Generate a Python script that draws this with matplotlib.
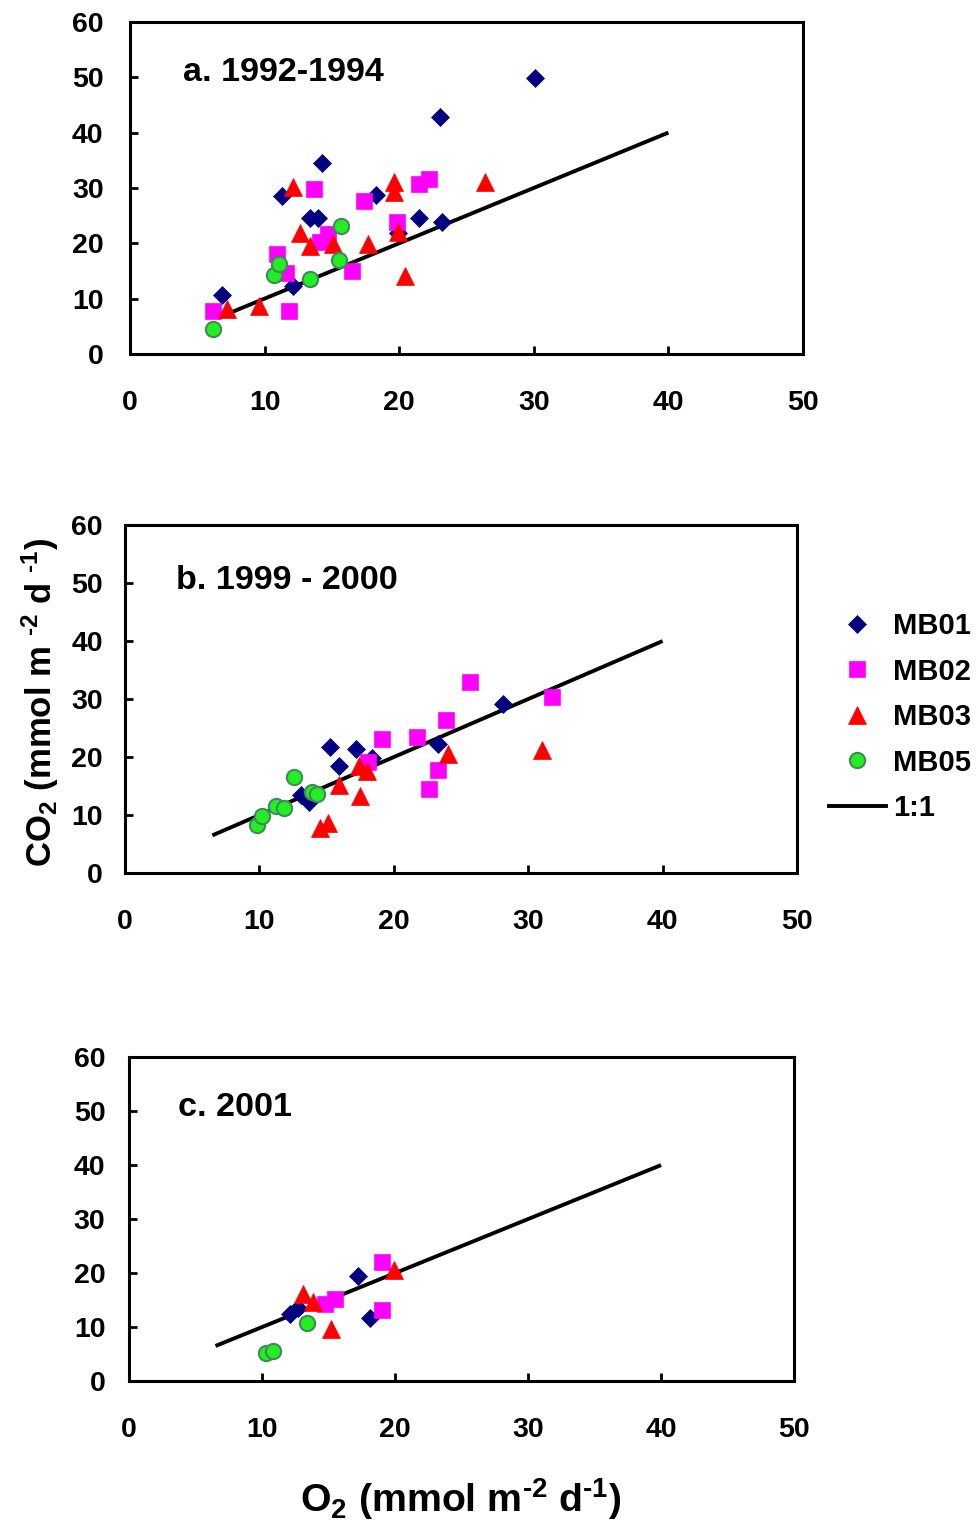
import matplotlib
matplotlib.use("Agg")
import matplotlib.pyplot as plt
from matplotlib.lines import Line2D

plt.rcParams['font.family'] = ['Liberation Sans', 'DejaVu Sans']
plt.rcParams['font.weight'] = 'bold'
plt.rcParams['mathtext.fontset'] = 'custom'
plt.rcParams['mathtext.rm'] = 'Liberation Sans:bold'
plt.rcParams['mathtext.bf'] = 'Liberation Sans:bold'
plt.rcParams['mathtext.default'] = 'rm'

# ---- data (O2, CO2 in mmol m-2 d-1) ----
titles = ["a. 1992-1994", "b. 1999 - 2000", "c. 2001"]
stations = ["MB01", "MB02", "MB03", "MB05"]

# panel a, 1992-1994
a_mb01_o2 = [6.8, 11.3, 12.1, 13.4, 14.0, 14.3, 18.3, 19.9, 21.5, 23.0, 23.2, 30.1]
a_mb01_co2 = [10.7, 28.6, 12.3, 24.5, 24.5, 34.5, 28.7, 21.8, 24.5, 42.8, 23.8, 49.8]
a_mb02_o2 = [6.2, 10.9, 11.6, 11.8, 13.7, 14.1, 14.7, 16.5, 17.4, 19.8, 21.5, 22.2]
a_mb02_co2 = [7.7, 18.0, 14.6, 7.7, 29.8, 20.3, 21.7, 14.9, 27.6, 23.9, 30.7, 31.7]
a_mb03_o2 = [7.2, 9.6, 12.1, 12.6, 13.4, 15.1, 17.7, 19.6, 19.6, 19.9, 20.4, 26.4]
a_mb03_co2 = [8.1, 8.7, 30.2, 21.8, 19.5, 19.8, 19.8, 29.3, 31.1, 22.1, 14.0, 31.1]
a_mb05_o2 = [6.2, 10.7, 11.1, 13.4, 15.5, 15.7]
a_mb05_co2 = [4.5, 14.2, 16.3, 13.6, 17.0, 23.2]

# panel b, 1999-2000
b_mb01_o2 = [15.25, 17.2, 15.9, 18.4, 13.1, 13.7, 23.3, 28.1]
b_mb01_co2 = [21.7, 21.4, 18.4, 19.8, 13.4, 12.2, 22.2, 29.2]
b_mb02_o2 = [19.1, 18.1, 21.7, 23.9, 23.3, 22.6, 25.7, 31.8]
b_mb02_co2 = [23.1, 19.2, 23.4, 26.4, 17.8, 14.5, 32.9, 30.3]
b_mb03_o2 = [14.5, 15.1, 15.9, 17.5, 17.4, 18.0, 24.0, 31.0]
b_mb03_co2 = [7.7, 8.7, 15.2, 13.3, 18.4, 17.6, 20.5, 21.2]
b_mb05_o2 = [9.8, 10.2, 11.2, 11.8, 12.6, 13.9, 14.3]
b_mb05_co2 = [8.3, 9.8, 11.6, 11.3, 16.5, 13.9, 13.6]

# panel c, 2001
c_mb01_o2 = [12.1, 12.7, 17.2, 18.1]
c_mb01_co2 = [12.4, 13.5, 19.4, 11.6]
c_mb02_o2 = [14.7, 15.5, 19.0, 19.0]
c_mb02_co2 = [14.2, 15.2, 22.0, 13.1]
c_mb03_o2 = [13.1, 13.8, 15.2, 19.9]
c_mb03_co2 = [16.2, 14.6, 9.6, 20.6]
c_mb05_o2 = [10.3, 10.8, 13.4]
c_mb05_co2 = [5.2, 5.6, 10.7]

line_x = [6.5, 40]
xticks = [0, 10, 20, 30, 40, 50]
yticks = [0, 10, 20, 30, 40, 50, 60]

panels = [
    [(a_mb01_o2, a_mb01_co2), (a_mb02_o2, a_mb02_co2), (a_mb03_o2, a_mb03_co2), (a_mb05_o2, a_mb05_co2)],
    [(b_mb01_o2, b_mb01_co2), (b_mb02_o2, b_mb02_co2), (b_mb03_o2, b_mb03_co2), (b_mb05_o2, b_mb05_co2)],
    [(c_mb01_o2, c_mb01_co2), (c_mb02_o2, c_mb02_co2), (c_mb03_o2, c_mb03_co2), (c_mb05_o2, c_mb05_co2)],
]

styles = [
    dict(marker='D', ms=8.8, mfc='#000080', mec='#000080', mew=0.5),
    dict(marker='s', ms=11.5, mfc='#ff00ff', mec='#ff00ff', mew=0.5),
    dict(marker='^', ms=12.5, mfc='#ff0000', mec='#ff0000', mew=0.5),
    dict(marker='o', ms=11, mfc='#22ee22', mec='#3f8a5c', mew=1.5),
]

# axes rectangles in figure fractions (left, bottom, width, height)
rects = [
    (0.1328, 0.7673, 0.6874, 0.2183),
    (0.1277, 0.4260, 0.6864, 0.2288),
    (0.1318, 0.0920, 0.6793, 0.2130),
]
title_pos = [(0.079, 0.849), (0.076, 0.842), (0.074, 0.843)]
ypads = [19, 16, 17]

fig = plt.figure(figsize=(9.79, 15.21), dpi=100)

for k, rect in enumerate(rects):
    ax = fig.add_axes(rect)
    ax.plot(line_x, line_x, color='black', lw=2.8, zorder=1, solid_capstyle='butt')
    for (xs, ys), st in zip(panels[k], styles):
        ax.plot(xs, ys, ls='none', zorder=3, **st)
    ax.set_xlim(0, 50)
    ax.set_ylim(0, 60)
    ax.set_xticks(xticks)
    ax.set_yticks(yticks)
    ax.tick_params(direction='in', length=6, width=2, labelsize=20.5)
    ax.tick_params(axis='x', pad=26)
    ax.tick_params(axis='y', pad=ypads[k])
    for s in ax.spines.values():
        s.set_linewidth(2.2)
    ax.text(title_pos[k][0], title_pos[k][1], titles[k], transform=ax.transAxes,
            fontsize=24.6, fontweight='bold', ha='left', va='center')

handles = [Line2D([], [], ls='none', **st) for st in styles]
handles.append(Line2D([], [], color='black', lw=2.8))
labels = stations + ["1:1"]
fig.legend(handles, labels, loc='upper left', bbox_to_anchor=(829 / 979, 1 - 612 / 1521),
           frameon=False, fontsize=21, handlelength=1.95, handletextpad=0.25,
           labelspacing=0.6, borderpad=0, borderaxespad=0)

fig.text(0.041, 0.5385, r'CO$_2$ (mmol m $^{\text{-2}}$ d $^{\text{-1}}$)', rotation=90,
         ha='center', va='center', fontsize=25)
fig.text(461 / 979, 0.0145, r'O$_2$ (mmol m$^{\text{-2}}$ d$^{\text{-1}}$)',
         ha='center', va='center', fontsize=28.3)

fig.savefig('out.png', dpi=100)
